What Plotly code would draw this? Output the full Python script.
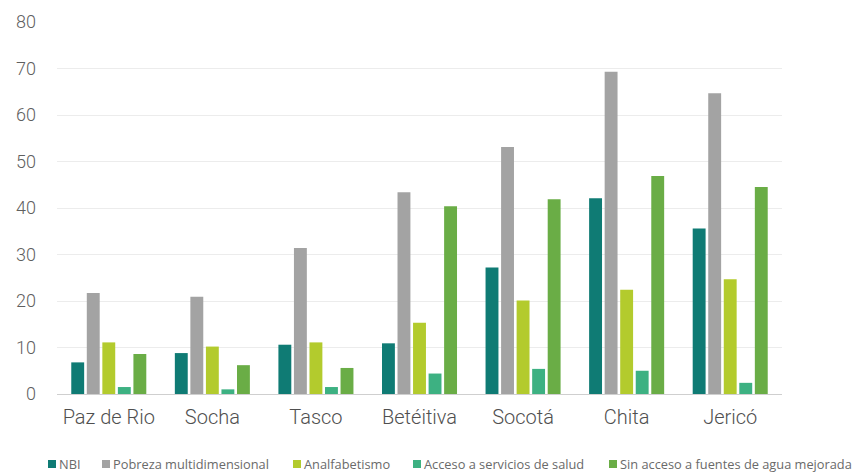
import plotly.graph_objects as go

categories = ["Paz de Rio", "Socha", "Tasco", "Betéitiva", "Socotá", "Chita", "Jericó"]
nbi = [6.8, 8.8, 10.6, 10.9, 27.2, 42.1, 35.6]
pobreza = [21.7, 20.9, 31.4, 43.4, 53.1, 69.3, 64.7]
analfabetismo = [11.1, 10.2, 11.1, 15.3, 20.1, 22.4, 24.7]
acceso_salud = [1.5, 1.0, 1.5, 4.4, 5.4, 5.0, 2.4]
sin_agua = [8.6, 6.2, 5.6, 40.4, 41.9, 46.9, 44.5]
y_ticks = [0, 10, 20, 30, 40, 50, 60, 70, 80]

series = [
    ("NBI", nbi, "#0f7b74"),
    ("Pobreza multidimensional", pobreza, "#a3a3a3"),
    ("Analfabetismo", analfabetismo, "#b3cb2d"),
    ("Acceso a servicios de salud", acceso_salud, "#3db182"),
    ("Sin acceso a fuentes de agua mejorada", sin_agua, "#6aad46"),
]

# the page body adds an 8px offset, so the figure is laid out 8px smaller
OFF = 8
W, H = 861 - OFF, 473 - OFF
ML, MR, MT, MB = 57 - OFF, 79, 22 - OFF, 79
PW, PH = W - ML - MR, H - MT - MB


def px_x(px):
    return (px - OFF - ML) / PW


def px_y(py):
    return (H - MB - (py - OFF)) / PH


fig = go.Figure()
for name, vals, color in series:
    fig.add_trace(go.Bar(name=name, x=categories, y=vals, marker_color=color,
                         marker_line_width=0, showlegend=False))

# custom legend (tight swatch/text spacing like the original)
legend_left = [48, 102, 293, 413, 609]
shapes, annots = [], []
for (name, _, color), lx in zip(series, legend_left):
    shapes.append(dict(type="rect", xref="paper", yref="paper",
                       x0=px_x(lx), x1=px_x(lx + 8), y0=px_y(468), y1=px_y(460),
                       fillcolor=color, line_width=0, layer="above"))
    annots.append(dict(xref="paper", yref="paper", x=px_x(lx + 9), y=px_y(464),
                       xanchor="left", yanchor="middle", showarrow=False, text=name,
                       font=dict(family="Open Sans, sans-serif", size=12.8, color="#6a6a6a")))

fig.update_layout(
    width=W, height=H,
    margin=dict(l=ML, r=MR, t=MT, b=MB, autoexpand=False),
    plot_bgcolor="white", paper_bgcolor="white",
    barmode="group", bargap=0.25, bargroupgap=0.17,
    font=dict(family="Roboto, sans-serif", color="#595959"),
    showlegend=False,
    shapes=shapes, annotations=annots,
)
fig.update_yaxes(range=[0, 80], tickvals=y_ticks, showgrid=True, gridcolor="#ececec",
                 gridwidth=1, zeroline=False, showline=False,
                 tickfont=dict(family="Roboto, sans-serif", size=18, color="#5f5f5f", weight=300),
                 ticks="", ticklabelstandoff=20)
fig.update_xaxes(showline=True, linecolor="#cfcfcf", linewidth=1, ticks="",
                 tickfont=dict(family="Roboto, sans-serif", size=20, color="#4f4f4f", weight=300),
                 ticklabelstandoff=5)

fig.write_html("out.html")
